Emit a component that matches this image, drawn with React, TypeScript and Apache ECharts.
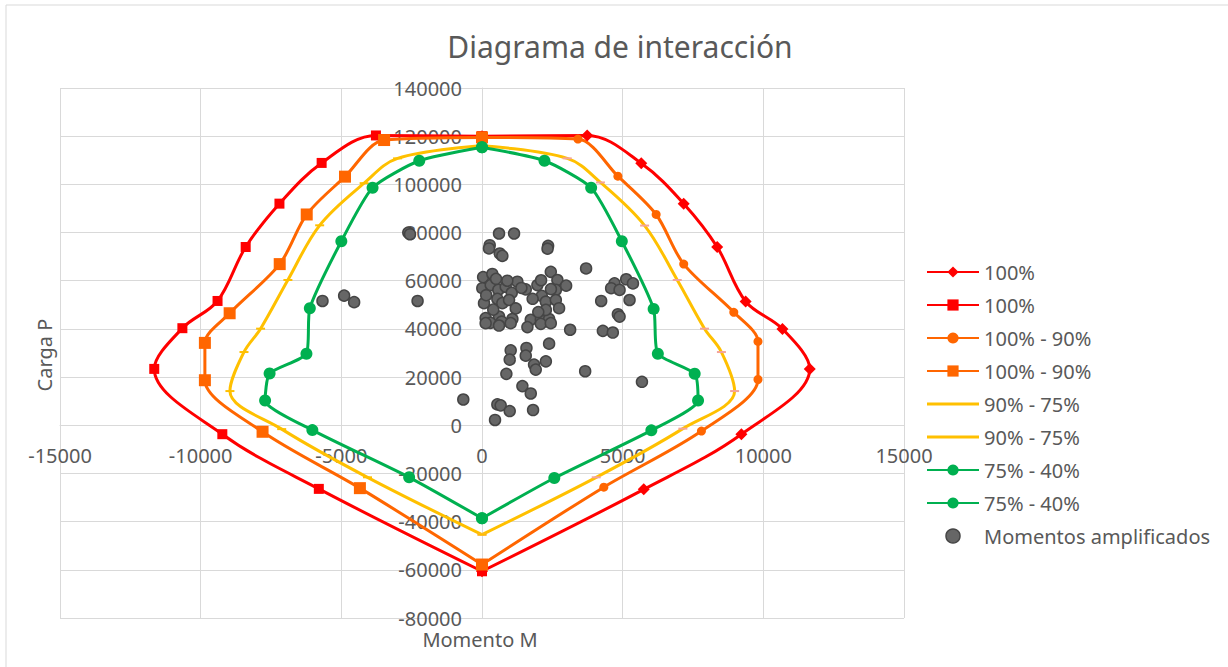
import React, { useEffect, useRef } from "react";
import * as echarts from "echarts";

// Interaction diagram halves (M, P)
const red100Right = [[0,120000],[3740,120300],[5660,108800],[7170,92000],[8360,74000],[9370,51400],[10680,40000],[11650,23400],[9220,-3700],[5750,-26600],[0,-60600]];
const red100Left = [[0,120000],[-3770,120300],[-5700,108900],[-7200,92000],[-8400,74000],[-9400,51600],[-10650,40300],[-11650,23400],[-9230,-3700],[-5800,-26400],[0,-60600]];
const orange90Right = [[0,119500],[3410,118800],[4830,103400],[6190,87500],[7170,66900],[8950,46900],[9810,34800],[9810,19000],[7800,-2400],[4330,-25700],[0,-57800]];
const orange90Left = [[0,119500],[-3480,118400],[-4870,103200],[-6230,87500],[-7190,66900],[-8970,46500],[-9850,34200],[-9850,18700],[-7800,-2700],[-4340,-26100],[0,-57800]];
const yellow75Right = [[0,116000],[3030,110800],[4210,100800],[5780,82900],[6940,60300],[7910,40100],[8510,30400],[8980,14200],[7140,-1400],[4060,-21600],[0,-45400]];
const yellow75Left = [[0,116000],[-3000,110800],[-4190,100500],[-5770,83000],[-6900,60300],[-7870,40100],[-8460,30400],[-8960,14200],[-7120,-1600],[-4070,-21600],[0,-45400]];
const green40Right = [[0,115400],[2220,109800],[3880,98600],[4970,76400],[6100,48300],[6250,29700],[7560,21400],[7680,10300],[6020,-2100],[2570,-21900],[0,-38600]];
const green40Left = [[0,115400],[-2230,109800],[-3890,98600],[-5000,76400],[-6120,48600],[-6240,29700],[-7550,21500],[-7710,10300],[-6030,-2000],[-2590,-21600],[0,-38600]];

// Amplified moments (M, P)
const momentos = [
  [-2620,80000],[-2560,79300],[-5670,51600],[-4900,53800],[-4545,51100],[-2290,51600],[-665,10700],
  [605,79600],[1139,79600],[274,74750],[249,73400],[630,71300],[723,70300],[2350,74500],[2330,73300],
  [2445,63700],[2680,60300],[3700,65100],
  [40,61500],[367,62800],[11,56900],[310,58200],[580,56200],[843,57500],[1257,59600],[1555,56400],
  [1057,55000],[1969,58200],[2125,53700],[2624,56200],[71,50700],[546,52450],[723,50700],[961,52000],
  [2270,51300],[2624,52000],[130,44500],[605,45150],[1080,44100],[1733,43800],[2090,43800],[2385,44100],
  [2270,47900],[2740,48600],[2990,57950],[150,54000],[400,48000],[900,60000],[1400,57000],[1800,52500],
  [2000,47000],[300,42500],[700,43000],[2450,56500],[2100,60200],[500,60800],[1200,48500],
  [4710,58900],[5126,60600],[5365,58900],[4590,56900],[4890,56200],[5245,52000],[4236,51600],[4830,46100],
  [4890,45100],[3133,39650],[4296,39200],[4650,38500],[3667,22430],[5685,18050],
  [130,42400],[605,41400],[1020,42400],[1614,40750],[2090,42100],[2445,42400],[1020,31100],[985,27250],
  [1580,32100],[1555,28900],[1850,25200],[1910,23100],[2270,26550],[2385,33870],[866,21350],[1436,16250],
  [1733,13200],[546,8670],[664,8260],[985,5900],[1815,6330],[463,2200]
];

const xTicks = { min: -15000, max: 15000, interval: 5000 };
const yTicks = { min: -80000, max: 140000, interval: 20000 };

const legendNames = [
  "100%#a", "100%#b", "100% - 90%#a", "100% - 90%#b",
  "90% - 75%#a", "90% - 75%#b", "75% - 40%#a", "75% - 40%#b", "Momentos amplificados",
];

const FONT = '"Noto Sans", "Open Sans", sans-serif';
const TXT = "#595959";

const GRID = { left: 60, right: 324, top: 88, bottom: 49 };
const W = 1228;
const H = 667;

export default function App() {
  const ref = useRef<HTMLDivElement>(null);
  useEffect(() => {
    if (!ref.current) return;
    const chart = echarts.init(ref.current, null, { renderer: "svg" });
    // Pixel distance from plot edges to the zero lines (axes cross at 0, like Excel)
    const plotW = W - GRID.left - GRID.right;
    const plotH = H - GRID.top - GRID.bottom;
    const zeroXFromLeft = ((0 - xTicks.min) / (xTicks.max - xTicks.min)) * plotW;
    const zeroYFromBottom = ((0 - yTicks.min) / (yTicks.max - yTicks.min)) * plotH;
    const lineSeries = (name: string, data: number[][], color: string, symbol: string, symbolSize: any, smooth: number, markerColor?: string) => ({
      type: "line",
      name,
      data,
      smooth,
      symbol,
      symbolSize,
      showAllSymbol: true,
      lineStyle: { color, width: 3 },
      itemStyle: { color: markerColor || color, borderWidth: 0 },
      z: 3,
    });
    chart.setOption({
      animation: false,
      backgroundColor: "#ffffff",
      grid: { ...GRID, containLabel: false },
      xAxis: {
        type: "value",
        ...xTicks,
        position: "bottom",
        offset: -zeroYFromBottom,
        axisLine: { show: true, onZero: false, lineStyle: { color: "#d9d9d9", width: 1 } },
        axisTick: { show: false },
        splitLine: { show: true, lineStyle: { color: "#d9d9d9", width: 1 } },
        axisLabel: { color: TXT, fontSize: 20, fontFamily: FONT, margin: 20, formatter: (v: number) => String(v) },
      },
      yAxis: {
        type: "value",
        ...yTicks,
        position: "left",
        offset: -zeroXFromLeft,
        axisLine: { show: true, onZero: false, lineStyle: { color: "#d9d9d9", width: 1 } },
        axisTick: { show: false },
        splitLine: { show: true, lineStyle: { color: "#d9d9d9", width: 1 } },
        axisLabel: { color: TXT, fontSize: 20, fontFamily: FONT, margin: 20, formatter: (v: number) => String(v) },
      },
      legend: {
        orient: "vertical",
        left: 921,
        top: 257,
        itemWidth: 52,
        itemHeight: 14,
        itemGap: 13,
        textStyle: { color: TXT, fontSize: 20, fontFamily: FONT, lineHeight: 20 },
        formatter: (name: string) => name.split("#")[0],
        data: [
          { name: legendNames[0] },
          { name: legendNames[1] },
          { name: legendNames[2] },
          { name: legendNames[3] },
          { name: legendNames[4], icon: "path://M0,0H52V3H0Z", itemStyle: { color: "#FFC000" } },
          { name: legendNames[5], icon: "path://M0,0H52V3H0Z", itemStyle: { color: "#FFC000" } },
          { name: legendNames[6] },
          { name: legendNames[7] },
          { name: legendNames[8], icon: "circle", itemStyle: { borderWidth: 1.5 } },
        ],
      },
      graphic: [
        { type: "rect", silent: true, shape: { x: 6, y: 5, width: 1240, height: 700 }, style: { fill: "none", stroke: "#d9d9d9", lineWidth: 1 } },
        { type: "text", silent: true, x: 620, y: 46, style: { text: "Diagrama de interacción", fill: TXT, font: `30px ${FONT}`, align: "center", verticalAlign: "middle", textAlign: "center", textVerticalAlign: "middle" } },
        { type: "text", silent: true, x: 44, y: 355, rotation: Math.PI / 2, style: { text: "Carga P", fill: TXT, font: `20px ${FONT}`, align: "center", verticalAlign: "middle", textAlign: "center", textVerticalAlign: "middle" } },
        { type: "text", silent: true, x: 480, y: 639, style: { text: "Momento M", fill: TXT, font: `20px ${FONT}`, align: "center", verticalAlign: "middle", textAlign: "center", textVerticalAlign: "middle" } },
      ],
      series: [
        lineSeries(legendNames[0], red100Right, "#FF0000", "diamond", 12, 0.35),
        lineSeries(legendNames[1], red100Left, "#FF0000", "rect", 10, 0.35),
        lineSeries(legendNames[2], orange90Right, "#FF6600", "circle", 9, 0.3),
        lineSeries(legendNames[3], orange90Left, "#FF6600", "rect", 12, 0.3),
        lineSeries(legendNames[4], yellow75Right, "#FFC000", "rect", [9, 2], 0.35, "#F4A49A"),
        lineSeries(legendNames[5], yellow75Left, "#FFC000", "rect", [9, 2], 0.35),
        lineSeries(legendNames[6], green40Right, "#00B050", "circle", 12, 0.2),
        lineSeries(legendNames[7], green40Left, "#00B050", "circle", 12, 0.2),
        {
          type: "scatter",
          name: legendNames[8],
          data: momentos,
          symbol: "circle",
          symbolSize: 11,
          itemStyle: { color: "#666666", borderColor: "#454545", borderWidth: 1.5, opacity: 1 },
          z: 4,
        },
      ],
    });
    return () => chart.dispose();
  }, []);
  return <div ref={ref} style={{ position: "absolute", left: 0, top: 0, width: W, height: H, background: "#fff" }} />;
}
